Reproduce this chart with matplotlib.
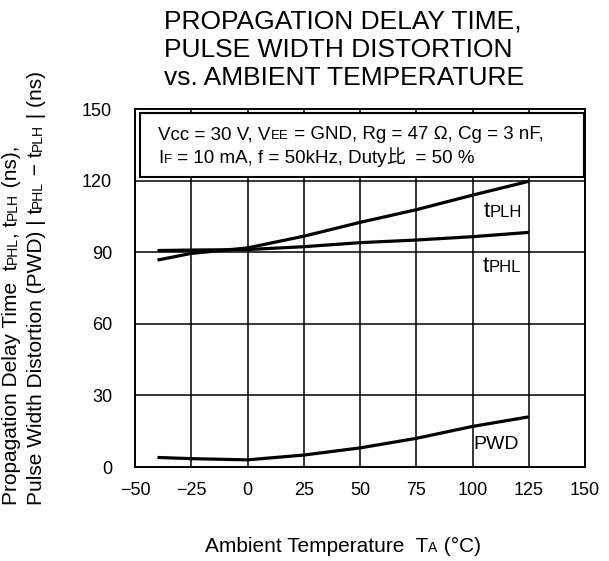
import matplotlib
matplotlib.use("Agg")
import matplotlib.pyplot as plt
from matplotlib.patches import Rectangle

# ambient temperature (deg C) and measured times (ns)
temp = [-40, -25, 0, 25, 50, 75, 100, 125]
t_plh = [86.7, 89.5, 91.8, 96.7, 102.5, 107.8, 113.9, 119.7]
t_phl = [90.7, 90.9, 91.1, 92.3, 94.0, 95.1, 96.5, 98.3]
pwd = [4.0, 3.5, 3.0, 5.0, 8.0, 12.0, 17.0, 21.0]

x_ticks = [-50, -25, 0, 25, 50, 75, 100, 125, 150]
y_ticks = [0, 30, 60, 90, 120, 150]

SANS = ["Liberation Sans", "Noto Sans CJK JP", "DejaVu Sans"]
plt.rcParams["font.family"] = SANS

W, H = 609, 561
fig = plt.figure(figsize=(W / 100, H / 100), dpi=100)
ax = fig.add_axes([135 / W, 1 - 467 / H, 450 / W, 358 / H])


def rich(x, y, pieces, coords, rotation=0):
    """Draw text pieces of mixed size one after another on a shared baseline."""
    prev = None
    for piece in pieces:
        s, size = piece[0], piece[1]
        fam = piece[2] if len(piece) > 2 else SANS
        if prev is None:
            xy, xyc = (x, y), coords
        elif rotation == 0:
            xy, xyc = (1, y), (prev, coords)
        else:
            xy, xyc = (x, 1), (coords, prev)
        prev = ax.annotate(s, xy=xy, xycoords=xyc, fontsize=size, family=fam,
                           rotation=rotation, rotation_mode="anchor",
                           ha="left", va="baseline", annotation_clip=False,
                           zorder=5)
    return prev


ax.plot(temp, t_plh, color="black", lw=2.3, solid_capstyle="butt", zorder=3)
ax.plot(temp, t_phl, color="black", lw=2.3, solid_capstyle="butt", zorder=3)
ax.plot(temp, pwd, color="black", lw=2.3, solid_capstyle="butt", zorder=3)

ax.set_xlim(-50, 150)
ax.set_ylim(0, 150)
ax.set_xticks(x_ticks)
ax.set_yticks(y_ticks)
ax.set_xticklabels(["\u2212" + str(-v) if v < 0 else str(v) for v in x_ticks],
                   fontsize=13)
ax.set_yticklabels([str(v) for v in y_ticks], fontsize=13)
ax.tick_params(length=0)
ax.tick_params(axis="x", pad=10.5)
ax.tick_params(axis="y", pad=16.5)

# grid stops at 125 deg C and 120 ns
for xv in x_ticks[1:-1]:
    ax.plot([xv, xv], [0, 150], color="black", lw=1.1, zorder=1)
for yv in y_ticks[1:-1]:
    ax.plot([-50, 150], [yv, yv], color="black", lw=1.1, zorder=1)
for sp in ax.spines.values():
    sp.set_linewidth(1.4)

# condition box
ax.add_patch(Rectangle((-47.8, 121.5), 197.4, 26.8, facecolor="white",
                       edgecolor="black", lw=1.5, zorder=4))
rich(-39.6, 137.3, [("Vcc = 30 V, V", 13.5), ("EE", 9.5),
                    (" = GND, Rg = 47 \u03a9, Cg = 3 nF,", 13.5)], "data")
rich(-39.6, 127.2, [("I", 13.5), ("F", 9.5),
                    (" = 10 mA, f = 50kHz, Duty", 13.5),
                    ("\u6bd4", 13.5, ["Noto Sans CJK JP"]),
                    ("  = 50 %", 13.5)], "data")

# curve labels
rich(105.0, 104.9, [("t", 16), ("PLH", 12)], "data")
rich(104.6, 81.8, [("t", 16), ("PHL", 12)], "data")
rich(100.3, 7.5, [("PWD", 14)], "data")

# title
for i, line in enumerate(["PROPAGATION DELAY TIME,",
                          "PULSE WIDTH DISTORTION",
                          "vs. AMBIENT TEMPERATURE"]):
    fig.text(164 / W, 1 - (29 + 28 * i) / H, line, fontsize=19,
             ha="left", va="baseline")

# axis titles
rich(205 / W, 1 - 552 / H,
     [("Ambient Temperature  T", 15), ("A", 10), (" (\u00b0C)", 15)],
     "figure fraction")
rich(17 / W, 1 - 505 / H,
     [("Propagation Delay Time  t", 15), ("PHL", 10), (", t", 15),
      ("PLH", 10), (" (ns),", 15)], "figure fraction", rotation=90)
rich(42 / W, 1 - 505 / H,
     [("Pulse Width Distortion (PWD) | t", 15), ("PHL", 10), (" \u2212 t", 15),
      ("PLH", 10), (" | (ns)", 15)], "figure fraction", rotation=90)

fig.savefig("out.png", dpi=100)
